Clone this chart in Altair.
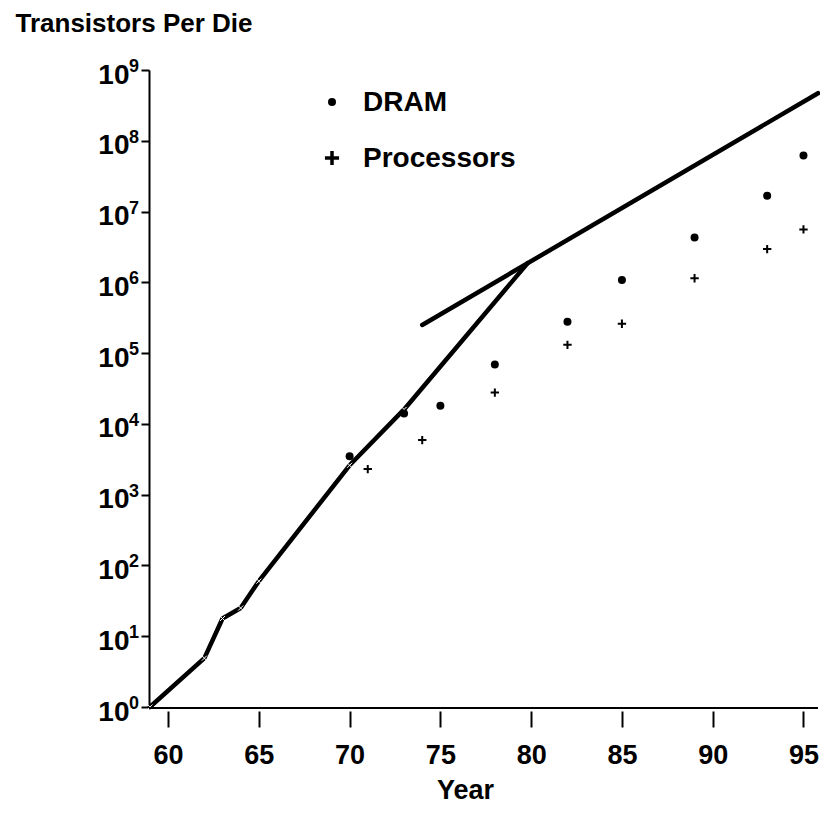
import altair as alt
import pandas as pd

# ---- data ----
series_names = ["DRAM", "Processors"]

dram_years = [70, 73, 75, 78, 82, 85, 89, 93, 95]
dram_values = [3500, 14000, 18000, 69000, 278000, 1080000, 4300000, 16700000, 62000000]

proc_years = [71, 74, 78, 82, 85, 89, 93, 95]
proc_values = [2300, 5900, 27700, 131000, 260000, 1140000, 2950000, 5600000]

curve_years = [59, 62, 63, 64, 65, 70, 73, 79.8]
curve_values = [1, 4.9, 17.8, 25, 60, 2600, 16000, 1860000]

trend_years = [74, 95.8]
trend_values = [250000, 470000000]

x_tick_values = [60, 65, 70, 75, 80, 85, 90, 95]
y_exponents = [0, 1, 2, 3, 4, 5, 6, 7, 8, 9]

# ---- tables ----
dram_df = pd.DataFrame({"year": dram_years, "value": dram_values})
proc_df = pd.DataFrame({"year": proc_years, "value": proc_values})
curve_df = pd.DataFrame({"year": curve_years, "value": curve_values})
marks_df = curve_df.iloc[:-1]
trend_df = pd.DataFrame({"year": trend_years, "value": trend_values})
exp_df = pd.DataFrame({"value": [10 ** k for k in y_exponents],
                       "exp": [str(k) for k in y_exponents]})
leg_df = pd.DataFrame({"name": series_names})

W, H = 669, 637
FONT = "Liberation Sans"
PLUS = "M-1,0H1M0,-1V1"

xs = alt.Scale(domain=[58.95, 95.8], nice=False, zero=False)
ys = alt.Scale(type="log", domain=[1, 1e9], nice=False)

x_axis = alt.Axis(values=x_tick_values, domain=False, grid=False, offset=4,
                  tickSize=16, tickWidth=2, tickColor="black",
                  labelFont=FONT, labelFontSize=27, labelFontWeight="bold",
                  labelColor="black", labelPadding=15, format="d",
                  title="Year", titleFont=FONT, titleFontSize=27,
                  titleFontWeight="bold", titleColor="black",
                  titleX=316, titleY=87, titleBaseline="alphabetic")
y_axis = alt.Axis(values=[10 ** k for k in y_exponents], labelExpr="'10'",
                  grid=False, domainColor="black", domainWidth=2,
                  tickSize=8, tickWidth=2, tickColor="black",
                  labelFont=FONT, labelFontSize=28, labelFontWeight="bold",
                  labelColor="black", labelPadding=12, labelOffset=5,
                  labelBaseline="middle",
                  title="Transistors Per Die", titleFont=FONT, titleFontSize=26,
                  titleFontWeight="bold", titleColor="black", titleAngle=0,
                  titleAlign="left", titleBaseline="alphabetic",
                  titleX=-134, titleY=-39)

curve = alt.Chart(curve_df).mark_line(
    color="black", strokeWidth=4.5, strokeCap="round", strokeJoin="round"
).encode(
    x=alt.X("year:Q", scale=xs, axis=x_axis),
    y=alt.Y("value:Q", scale=ys, axis=y_axis),
)

trend = alt.Chart(trend_df).mark_line(
    color="black", strokeWidth=4.5, strokeCap="round"
).encode(
    x=alt.X("year:Q", scale=xs),
    y=alt.Y("value:Q", scale=ys),
)

curve_marks = alt.Chart(marks_df).mark_point(
    shape="M-1,-1L1,1M-1,1L1,-1", filled=False, stroke="white",
    strokeWidth=1, size=25, opacity=1
).encode(
    x=alt.X("year:Q", scale=xs),
    y=alt.Y("value:Q", scale=ys),
)

dram_pts = alt.Chart(dram_df).mark_point(
    shape="circle", filled=True, color="black", size=64, opacity=1
).encode(
    x=alt.X("year:Q", scale=xs),
    y=alt.Y("value:Q", scale=ys),
)

proc_pts = alt.Chart(proc_df).mark_point(
    shape=PLUS, filled=False, stroke="black", strokeWidth=2, size=70, opacity=1
).encode(
    x=alt.X("year:Q", scale=xs),
    y=alt.Y("value:Q", scale=ys),
)

exps = alt.Chart(exp_df).mark_text(
    align="left", baseline="middle", font=FONT, fontSize=18,
    fontWeight="bold", color="black", dy=-3
).encode(
    x=alt.value(-20),
    y=alt.Y("value:Q", scale=ys),
    text="exp:N",
)

x_line = alt.Chart(exp_df.iloc[:1]).mark_rule(color="black", strokeWidth=2).encode(
    x=alt.value(0), x2=alt.value(W), y=alt.value(H + 1)
)

leg_dot = alt.Chart(leg_df.iloc[:1]).mark_point(
    shape="circle", filled=True, color="black", size=64, opacity=1
).encode(x=alt.value(183), y=alt.value(32))

leg_plus = alt.Chart(leg_df.iloc[1:2]).mark_point(
    shape=PLUS, filled=False, stroke="black", strokeWidth=3.5, size=200, opacity=1
).encode(x=alt.value(183), y=alt.value(88))

leg_text1 = alt.Chart(leg_df.iloc[:1]).mark_text(
    align="left", baseline="middle", font=FONT, fontSize=28,
    fontWeight="bold", color="black"
).encode(x=alt.value(214), y=alt.value(33), text="name:N")

leg_text2 = alt.Chart(leg_df.iloc[1:2]).mark_text(
    align="left", baseline="middle", font=FONT, fontSize=28,
    fontWeight="bold", color="black"
).encode(x=alt.value(214), y=alt.value(89), text="name:N")

chart = alt.layer(
    curve, trend, curve_marks, dram_pts, proc_pts, exps, x_line,
    leg_dot, leg_plus, leg_text1, leg_text2
).properties(
    width=W, height=H,
    padding={"left": 141, "top": 62, "right": 2, "bottom": 97},
    autosize=alt.AutoSizeParams(type="none"),
    background="white",
).configure_view(stroke=None)

chart.save("out.html", embed_options={"renderer": "svg", "actions": False})
